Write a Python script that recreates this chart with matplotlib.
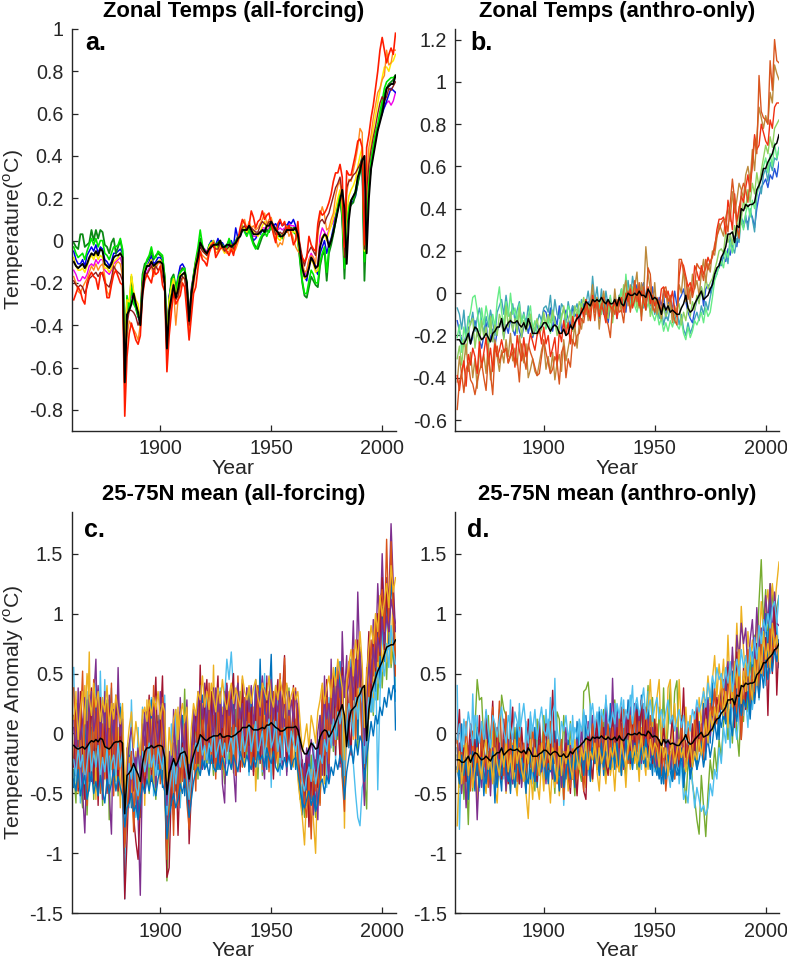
import numpy as np
import matplotlib
matplotlib.use('Agg')
import matplotlib.pyplot as plt

plt.rcParams['font.family'] = ['Liberation Sans', 'DejaVu Sans']
plt.rcParams['axes.unicode_minus'] = False
plt.rcParams['mathtext.fontset'] = 'custom'
plt.rcParams['mathtext.rm'] = 'Liberation Sans'

FIRST_YEAR = 1861
# All series: hundredths of a degree C, one row per decade from 1861 to 2006.
ens_all = [
-10,-12,-13,-12,-11,-13,-11,-8,-6,-7,
-5,-7,-4,-5,-11,-12,-13,-11,-8,-7,
-7,-6,-8,-67,-35,-33,-30,-25,-30,-34,
-40,-25,-15,-12,-12,-10,-12,-11,-10,-10,
-11,-20,-51,-33,-27,-21,-27,-23,-17,-16,
-15,-20,-38,-25,-18,-12,-8,-1,-3,-5,
-6,-4,-3,-2,-2,-2,0,-3,-3,-2,
-2,-3,-2,-1,1,2,5,5,5,7,
5,3,3,3,4,5,4,7,7,9,
7,5,4,2,2,3,5,5,5,5,
6,3,-5,-13,-17,-17,-13,-8,-10,-13,
-12,-3,1,3,2,-3,0,4,9,14,
19,24,15,-11,10,19,21,23,30,33,
38,40,-6,20,34,40,46,52,56,60,
66,72,73,74,74,78,
]
a_dkgreen = [
-1,-3,-4,3,3,-3,-2,-1,5,0,
5,1,5,4,-2,-3,-6,-1,1,-6,
-3,0,-5,-62,-30,-33,-17,-27,-31,-33,
-37,-16,-11,-10,-8,-5,-9,-7,-6,-7,
-8,-17,-47,-30,-18,-16,-22,-19,-15,-13,
-14,-21,-38,-24,-17,-10,-6,1,-4,-5,
-6,-4,-2,-1,-2,-1,0,-3,-3,-2,
0,-3,-2,-1,2,3,5,6,4,6,
3,-1,-3,-4,-1,2,3,5,4,7,
6,6,3,3,1,5,6,7,5,6,
6,1,-10,-20,-26,-27,-22,-17,-19,-21,
-22,-12,-7,-5,-19,-6,-2,3,9,15,
22,10,-18,8,15,17,18,22,27,32,
38,-19,10,25,35,42,48,53,58,63,
69,72,74,75,76,78,
]
a_lime = [
-3,-6,-8,-7,-6,-9,-5,-2,1,-2,
1,-3,0,0,-6,-7,-9,-6,-3,-3,
-2,1,-4,-55,-26,-32,-22,-30,-32,-36,
-38,-18,-13,-9,-7,-3,-8,-8,-5,-6,
-7,-17,-46,-28,-20,-17,-24,-18,-15,-14,
-13,-20,-39,-25,-16,-9,-3,5,-2,-5,
-7,-2,-1,0,-3,-3,-1,-2,-4,-3,
1,-2,-3,0,1,3,7,4,2,5,
1,-2,-4,-2,1,3,4,2,5,6,
4,3,2,2,1,4,4,5,6,4,
3,0,-9,-19,-25,-25,-19,-14,-16,-20,
-20,-10,-6,-3,-15,-4,0,4,10,16,
22,12,-13,9,16,19,20,24,29,35,
40,-10,12,28,38,45,51,55,61,66,
72,75,76,77,77,78,
]
a_yellow = [
-8,-12,-14,-14,-13,-15,-12,-9,-7,-9,
-6,-9,-7,-8,-13,-13,-15,-13,-10,-9,
-8,-6,-8,-60,-28,-29,-16,-24,-28,-30,
-41,-22,-14,-12,-11,-9,-13,-12,-10,-9,
-12,-19,-50,-28,-22,-18,-26,-22,-16,-16,
-16,-22,-41,-26,-18,-11,-7,-2,-3,-6,
-6,-3,-1,-2,-2,-5,-3,-4,-6,-4,
-4,-2,-5,-2,0,3,6,6,4,7,
5,4,3,2,4,7,9,6,8,10,
7,5,1,0,3,4,6,6,5,4,
4,0,-6,-13,-18,-17,-11,-9,-11,-15,
-14,-2,2,3,0,4,7,11,15,20,
24,16,-7,13,21,24,26,29,35,40,
44,-5,22,38,46,53,59,65,71,77,
82,82,80,84,85,88,
]
a_orange = [
-17,-20,-24,-25,-22,-20,-18,-15,-12,-14,
-11,-14,-12,-11,-17,-24,-26,-19,-14,-11,
-10,-11,-17,-72,-46,-38,-40,-42,-44,-47,
-40,-22,-17,-16,-14,-12,-17,-13,-11,-10,
-14,-20,-55,-40,-30,-24,-40,-28,-22,-18,
-18,-28,-45,-32,-22,-14,-10,-5,-7,-8,
-9,-5,-2,0,-6,-5,-2,-4,-5,-6,
-5,-3,-6,-4,-1,3,8,10,5,9,
6,7,5,6,8,10,13,8,10,11,
6,1,-3,-1,-2,3,7,2,4,1,
-3,-5,-6,-10,-15,-14,-9,-7,-8,-11,
2,12,16,12,5,6,10,13,21,26,
28,18,-5,22,29,28,33,38,44,53,
51,-3,28,44,50,58,64,70,72,76,
78,90,83,84,90,90,
]
a_red = [
-28,-25,-22,-24,-28,-30,-20,-17,-15,-17,
-18,-23,-16,-15,-19,-27,-27,-21,-16,-14,
-17,-20,-21,-83,-55,-44,-39,-43,-47,-49,
-45,-26,-19,-16,-18,-20,-14,-16,-15,-12,
-21,-24,-62,-45,-34,-24,-30,-28,-26,-20,
-22,-34,-47,-36,-25,-22,-13,-5,-9,-10,
-12,-6,-3,-1,-8,-6,-4,-3,-3,-5,
-7,-4,-7,-1,0,6,10,8,6,7,
14,11,6,9,10,14,10,12,13,8,
3,-1,8,10,7,9,4,7,3,-2,
0,9,-5,-8,-10,-8,2,-2,-4,-5,
8,14,12,13,15,18,22,28,32,32,
36,30,-3,33,31,31,36,41,47,48,
44,-2,44,50,58,64,72,80,90,96,
90,84,88,91,88,98,
]
a_dkred = [
-19,-21,-22,-21,-22,-25,-22,-18,-17,-16,
-15,-17,-15,-16,-20,-21,-22,-18,-12,-14,
-15,-16,-19,-65,-40,-33,-33,-34,-36,-40,
-37,-20,-15,-16,-14,-12,-14,-12,-14,-13,
-17,-21,-52,-35,-28,-23,-28,-26,-20,-17,
-18,-25,-40,-27,-19,-12,-6,-3,-5,-6,
-7,-4,-2,-3,-4,-4,-1,-3,-5,-4,
-3,-2,-4,-2,1,4,6,7,5,7,
6,5,4,4,7,9,8,7,9,9,
6,3,3,4,3,5,6,5,6,5,
6,3,-2,-8,-12,-7,-5,-3,-5,-7,
5,9,10,8,11,13,17,21,25,27,
30,22,-8,25,28,29,31,32,34,36,
39,-4,24,36,43,49,54,60,65,68,
66,68,72,71,73,75,
]
a_blue = [
-5,-9,-11,-11,-9,-12,-7,-5,-3,-5,
-2,-6,-3,-4,-9,-10,-12,-10,-6,-6,
-5,-4,-6,-58,-27,-32,-20,-26,-32,-36,
-39,-19,-15,-12,-10,-7,-11,-10,-8,-8,
-10,-18,-48,-26,-21,-18,-24,-17,-12,-11,
-13,-23,-42,-28,-17,-11,-6,-1,-3,-5,
-6,-2,0,-3,-2,1,-3,-1,-3,-3,
-2,0,-3,6,1,2,5,5,3,5,
3,0,1,3,3,5,5,5,4,8,
7,8,6,9,7,8,7,9,8,10,
7,2,-5,-13,-17,-19,-12,-8,-9,-14,
-16,-6,-3,0,-6,-2,1,6,11,16,
21,11,-12,8,15,17,19,21,27,33,
36,-8,14,28,37,42,49,53,57,60,
63,66,69,72,71,70,
]
a_magenta = [
-14,-16,-19,-19,-17,-18,-16,-12,-11,-12,
-9,-11,-9,-9,-14,-15,-16,-14,-11,-10,
-9,-8,-12,-60,-32,-30,-26,-28,-31,-34,
-38,-20,-16,-15,-13,-11,-14,-13,-10,-11,
-13,-20,-49,-27,-23,-19,-25,-20,-13,-13,
-14,-21,-37,-22,-16,-10,-5,-1,-4,-4,
-5,-3,-1,-2,-3,-3,-2,-3,-4,-3,
-3,-1,-4,0,2,3,6,4,4,6,
3,2,2,3,4,6,6,5,6,8,
8,6,5,6,5,6,6,8,7,7,
6,1,-6,-14,-17,-14,-9,-6,-8,-12,
-12,2,6,4,2,5,7,9,12,17,
21,14,-10,11,17,19,21,23,28,34,
37,-7,16,30,39,45,50,54,58,62,
63,65,66,64,66,70,
]
ens_anthro = [
-22,-22,-24,-24,-22,-19,-24,-19,-16,-17,
-20,-22,-21,-19,-21,-23,-19,-18,-16,-16,
-12,-18,-16,-14,-13,-14,-14,-13,-15,-16,
-14,-17,-12,-15,-19,-19,-19,-17,-16,-14,
-14,-16,-18,-16,-15,-16,-19,-19,-17,-20,
-19,-15,-17,-14,-12,-11,-9,-7,-4,-5,
-6,-3,-4,-3,-4,-2,-4,-5,-3,-5,
-5,-3,-6,-2,-5,-6,-3,0,-1,-1,
0,-1,1,-1,-1,-2,2,0,-3,-2,
-3,-6,-10,-5,-8,-6,-9,-8,-9,-10,
-10,-7,-5,-1,-7,-9,-8,-5,-3,-1,
1,-3,-2,-1,2,4,9,12,13,17,
19,22,28,28,29,24,32,31,40,39,
42,41,42,42,43,49,51,54,59,59,
62,64,66,70,71,75,
]
b_blue = [
-13,-18,-22,-25,-19,-16,-24,-21,-13,-19,
-22,-26,-20,-14,-24,-21,-17,-25,-18,-15,
-13,-21,-15,-19,-12,-17,-20,-13,-18,-21,
-16,-12,-19,-14,-21,-17,-15,-19,-13,-8,
-9,-14,-7,-18,-11,-15,-6,-18,-14,-8,
-12,-16,-6,-11,-9,-13,-8,-5,-10,-4,
-8,-3,-9,-5,-12,-4,-10,-3,-14,-6,
-9,-4,-12,-1,-7,-3,-9,1,-5,-2,
-1,4,-3,2,5,-4,1,-6,3,-5,
-8,-2,-6,0,-12,-5,-3,-8,1,-6,
-3,-1,2,-4,-9,-12,-14,-8,-3,-2,
3,-6,2,4,0,5,9,11,12,16,
17,15,21,18,24,27,22,30,34,31,
35,33,38,36,31,40,46,50,52,54,
50,56,54,59,55,62,
]
b_teal = [
-7,-10,-17,-8,-21,-11,-15,-9,-18,-12,
-7,-13,-19,-11,-16,-8,-14,-20,-9,-6,
-3,-10,-1,-9,-12,-5,-13,-8,-4,-14,
-9,-15,-6,-12,-16,-18,-14,-10,-13,-7,
-6,-9,-1,-13,-3,-10,-12,-5,-7,-14,
-4,-10,-6,-8,-5,-11,-3,-8,-5,1,
-7,8,-4,3,-8,2,-9,1,-6,-2,
-10,-1,-8,-3,2,-6,-2,6,-4,8,
1,-5,-2,4,-7,0,-3,-9,-4,-10,
-6,-12,-7,-15,-10,-13,-6,-9,-14,-8,
-15,-10,-17,-20,-14,-19,-16,-12,-9,-13,
-6,-10,-4,-8,-2,3,7,9,14,13,
18,20,14,27,22,19,26,24,36,33,
37,30,40,35,29,46,52,47,56,59,
53,62,58,64,63,69,
]
b_ltgreen = [
-21,-15,-28,-16,-22,-13,-9,-2,-1,-8,
-18,-7,-15,-6,-12,-19,-10,-16,-4,3,
-9,-15,-4,-11,0,-10,-7,-13,-5,-14,
-10,-16,-11,-6,-17,-13,-20,-16,-14,-11,
-17,-12,-19,-9,-14,-18,-15,-10,-8,-12,
-6,-9,-13,-7,-8,-10,-5,-9,-3,-6,
-9,-2,-8,-5,-3,-10,-2,-7,-9,-1,
-11,-3,-9,-5,2,-8,9,-2,-7,3,
-6,-9,-4,-11,-2,-8,-5,-3,-10,-13,
-9,-15,-12,-18,-14,-18,-13,-16,-12,-15,
-17,-13,-19,-22,-16,-21,-18,-13,-15,-12,
-9,-14,-7,-11,-9,-2,6,9,13,15,
12,20,17,24,19,25,30,27,35,30,
38,42,36,44,40,47,52,55,60,64,
57,66,60,71,64,68,
]
b_green = [
-31,-25,-34,-22,-29,-19,-14,-12,-26,-17,
-24,-13,-21,-16,-27,-11,-23,-15,-20,-10,
-13,-22,-6,-16,-9,-18,-12,-19,-7,-21,
-13,-18,-15,-10,-20,-16,-12,-19,-17,-9,
-15,-10,-14,-8,-13,-20,-17,-12,-6,-17,
-13,-9,-18,-6,-11,-4,-7,-2,-10,-5,
-13,0,-6,-2,-10,-4,0,-8,-12,-3,
-14,-5,-9,-1,-6,4,-3,-1,3,-6,
-1,-7,2,-9,-3,-5,1,-11,-7,-3,
-5,-9,-13,-6,-11,-8,-4,-13,-10,-7,
-5,-15,-9,-13,-6,-11,-4,-8,-1,-5,
3,-2,7,2,5,7,11,15,20,21,
19,29,24,28,23,32,27,41,35,44,
40,49,43,52,47,57,50,58,64,70,
66,74,69,78,80,82,
]
b_tan = [
-42,-30,-39,-33,-24,-37,-28,-40,-31,-45,
-26,-35,-29,-38,-24,-41,-33,-22,-30,-37,
-27,-33,-22,-30,-19,-32,-26,-34,-20,-28,
-33,-24,-40,-36,-31,-37,-39,-33,-27,-23,
-36,-30,-38,-28,-41,-33,-29,-37,-22,-32,
-26,-20,-24,-15,-26,-14,-17,-9,-3,-13,
-5,4,-9,-2,-17,-6,1,-10,-4,-7,
-11,2,-8,-3,-9,1,6,-6,4,-3,
3,10,-7,5,-1,22,9,2,-8,5,
-10,-4,-12,-2,1,-8,-3,-14,-6,-11,
4,0,12,-4,3,-5,9,2,6,-1,
9,16,5,14,10,20,18,26,33,30,
27,36,40,34,48,38,44,52,49,45,
56,60,53,68,58,74,88,83,78,84,
80,95,90,108,104,101,
]
b_red2 = [
-39,-46,-37,-32,-44,-29,-34,-26,-30,-38,
-23,-35,-28,-21,-33,-26,-37,-24,-30,-27,
-22,-28,-26,-33,-29,-24,-35,-20,-27,-32,
-21,-30,-26,-19,-23,-27,-20,-17,-24,-16,
-24,-20,-30,-26,-21,-34,-18,-23,-13,-20,
-14,-24,-11,-16,-10,-15,-7,-11,-3,-8,
-13,-1,-7,-3,-11,-5,-9,-14,-4,-6,
-8,-3,-12,-5,-2,-9,0,-4,2,-7,
-3,2,-6,1,-4,-8,3,-5,-1,-6,
-3,-7,2,3,-2,1,-4,1,-8,-11,
8,15,13,8,3,5,0,13,10,6,
13,9,12,17,14,18,21,30,35,35,
36,28,44,38,30,47,34,40,46,43,
50,56,48,62,75,68,70,80,76,72,
70,82,78,88,90,90,
]
b_red1 = [
-55,-42,-38,-47,-36,-33,-41,-43,-48,-42,
-37,-33,-40,-46,-30,-38,-48,-28,-25,-33,
-29,-27,-26,-33,-30,-28,-34,-31,-42,-24,
-30,-36,-24,-28,-31,-35,-39,-38,-30,-22,
-28,-33,-38,-36,-30,-33,-43,-28,-25,-40,
-31,-35,-22,-25,-20,-19,-12,-14,-6,-11,
-8,-4,-13,-3,-9,-7,-2,-12,-15,-21,
-6,-10,-3,-9,-8,-14,-3,1,-9,-2,
6,-4,5,-13,3,-6,12,9,-6,-9,
-2,-5,-9,2,3,-4,-1,-8,-13,-15,
16,16,10,7,-3,3,-2,3,14,12,
11,6,16,11,15,17,23,27,30,33,
35,35,29,42,54,44,31,26,48,52,
49,43,53,60,73,66,103,86,83,82,
80,110,96,120,110,109,
]
c_blue = [
-45,10,-30,25,-52,-10,28,-40,5,-35,
30,-25,12,-48,20,-15,-42,18,-30,8,
-38,22,-20,-75,-52,-18,-62,-30,-55,-68,
-32,12,-48,5,-22,28,-40,-8,-30,22,
-45,8,-95,-30,-60,-12,-48,8,-35,15,
-52,-5,-62,-22,12,-35,20,-20,32,-28,
15,-25,30,-18,24,-30,10,-22,35,-15,
22,-28,40,-12,28,-20,35,-25,18,-32,
30,-15,45,-22,62,-8,38,-30,25,66,
-18,30,-25,42,-20,15,-32,28,-12,22,
-30,12,-48,-68,-25,-60,-12,-55,-40,-62,
-5,-42,18,-30,35,-20,42,-8,55,-2,
60,-35,-50,30,-12,62,5,45,-5,70,
22,-22,38,65,18,80,35,92,40,105,
60,120,75,130,95,3,
]
c_green = [
-30,-58,15,-42,-62,8,-68,-20,22,-55,
5,-38,20,-60,-15,28,-72,12,-45,-5,
-52,18,-25,-100,-45,-8,-58,-22,-65,-38,
-70,-15,-42,10,-50,25,-28,-55,15,-35,
-18,-40,-123,-65,-15,-72,8,-40,-58,-22,
37,-45,-70,-10,-30,15,-38,25,-22,38,
-28,18,-12,-35,10,-30,25,-18,-42,30,
-25,5,-33,20,-12,35,-28,15,-20,38,
-8,-30,25,-38,12,-35,30,-10,-28,45,
-18,35,-30,20,-25,57,-15,38,-22,12,
-12,-30,-55,-42,-70,-28,-62,-18,-48,-70,
-20,-55,-10,-40,12,-32,25,-15,40,-5,
45,-25,-42,35,-10,55,-2,40,-15,60,
25,-35,-63,35,50,15,68,28,75,38,
80,45,95,55,72,40,
]
c_cyan = [
55,-40,25,-58,12,-30,35,-48,30,-25,
42,-35,52,-20,45,-45,15,38,-38,20,
-30,25,-55,-138,-20,-62,28,-35,-70,5,
-58,22,-40,15,-28,30,-52,20,-35,12,
-38,32,-85,-42,8,-55,20,-30,-62,15,
-25,-48,-15,-55,5,-20,30,-35,12,-28,
32,-15,25,-30,15,-22,38,-12,30,62,
45,68,35,-8,42,-18,30,-25,12,-35,
38,-10,42,-28,20,-32,50,-15,28,-45,
30,-18,35,-35,15,48,-22,30,-10,25,
-28,5,-35,-60,-30,-48,-15,-55,-8,-38,
-50,15,-30,22,-45,30,-12,38,-22,48,
-5,55,-25,42,5,-12,-25,-50,-70,-77,
-45,-38,-12,28,55,18,70,-47,30,85,
62,105,70,145,110,27,
]
c_yellow = [
-20,35,-50,18,-32,40,-12,68,-38,10,
-55,22,-42,30,-5,-48,15,-30,25,-40,
5,-62,18,-85,-60,-20,-45,-75,-15,-50,
-38,20,-60,28,-25,12,-42,25,-12,-32,
18,-55,-75,-30,-50,-8,-35,22,-48,-15,
10,-40,-60,-25,-8,-30,18,-15,25,-22,
-5,30,-18,57,-28,12,-25,22,-35,-8,
28,-20,15,-30,25,-12,32,-28,10,-18,
-25,22,-48,-5,30,-30,15,-18,35,-10,
-35,20,-25,10,-12,30,-30,22,-8,-28,
12,-38,-55,-70,-93,-48,-60,-30,-72,-100,
-30,-58,-5,-42,25,-20,30,-8,42,12,
-18,52,-79,38,5,48,-5,58,20,72,
30,-15,48,12,62,30,88,42,105,52,
78,60,110,58,125,65,
]
c_purple = [
15,-35,38,-22,-48,-83,-15,32,-40,28,
62,-30,18,-55,35,-8,-50,-84,20,-32,
55,-18,-42,-92,-12,-58,-30,-48,-20,-70,
-135,-25,18,-38,22,-18,30,-45,10,-28,
-15,25,-90,-18,-55,20,-30,-52,30,-12,
-40,22,-72,-28,15,-25,35,-10,-30,42,
-22,28,-15,38,-32,-8,25,-42,-58,20,
-12,40,-28,-57,30,-18,45,-8,38,-25,
18,-32,42,-12,35,-20,-38,48,-5,30,
-25,40,-15,25,-28,12,-35,35,-18,30,
-8,22,-42,-30,-62,-15,-50,-38,-68,-25,
-72,10,-35,48,-15,-40,62,-10,30,58,
-28,85,30,65,-5,40,94,22,118,55,
-18,-60,25,75,40,95,60,125,85,150,
95,130,110,175,125,85,
]
c_orange = [
38,-15,-45,5,52,-28,-60,18,-35,45,
-12,30,-50,8,-38,25,-18,42,-52,15,
-30,-8,-45,-95,-68,-35,-15,-82,-30,-55,
-48,5,-35,-15,18,-30,40,-22,8,-42,
30,-28,-105,-55,-25,-85,-10,-60,-18,-40,
8,-58,-80,-35,-10,-48,22,-30,15,-5,
-20,42,-25,15,-38,28,-10,-30,22,-15,
35,-25,10,-35,48,-5,-28,30,-15,25,
-30,15,-22,38,-10,45,-18,25,-32,10,
35,-25,-8,50,-20,63,-15,30,-28,18,
38,-22,-45,-30,-58,-70,-35,-88,-25,-48,
-30,-60,40,-18,30,-25,45,5,-10,52,
15,-38,-65,25,60,10,70,-8,62,35,
-5,-28,55,30,78,48,95,60,110,120,
85,162,90,160,105,48,
]
c_dkred = [
-28,25,-48,35,-18,-55,10,-32,38,-42,
18,-60,30,-25,8,-50,28,-15,-38,32,
-48,12,-28,-138,-90,-35,-20,-70,-90,-105,
-62,-18,-50,-5,32,-40,12,47,-25,5,
48,-35,-120,-112,-45,-68,-18,-85,-30,-8,
-45,15,-92,-50,-15,18,-25,57,-18,30,
45,-12,35,-25,18,48,-30,15,-20,42,
-15,30,50,-22,12,-32,42,-20,35,-10,
22,-35,18,40,-25,30,-15,42,-28,15,
-38,25,45,-20,30,65,-25,12,-30,40,
-10,25,-35,-22,-52,-20,-78,-35,-55,-22,
-45,-12,28,-35,45,-22,18,50,-18,40,
-25,55,-35,45,10,-18,62,25,78,45,
12,-30,42,85,30,75,52,100,65,130,
70,120,85,140,115,50,
]
c_blue2 = [
-38,-48,-30,-52,-42,-35,-55,-45,-32,-50,
-40,-52,-35,-48,-58,-38,-50,-42,-30,-48,
-36,-45,-52,-78,-62,-58,-50,-65,-60,-72,
-58,-42,-50,-38,-48,-35,-45,-52,-38,-30,
-42,-48,-88,-70,-58,-50,-62,-55,-42,-50,
-38,-52,-70,-55,-40,-32,-28,-35,-22,-30,
-25,-35,-18,-28,-32,-22,-30,-20,-28,-35,
-22,-30,-18,-25,-32,-15,-22,-28,-18,-25,
-30,-20,-28,-15,-22,-18,-28,-12,-20,-25,
-15,-28,-32,-25,-30,-20,-28,-18,-30,-22,
-20,-32,-45,-58,-62,-55,-48,-60,-52,-65,
-58,-42,-38,-50,-35,-42,-28,-35,-22,-30,
-18,-25,-55,-32,-20,-10,-25,-5,-18,-2,
-8,-40,-20,-5,10,-2,15,8,22,15,
30,22,38,28,40,35,
]
c_yellow2 = [
12,28,-5,20,35,8,50,30,15,42,
22,35,10,28,18,40,5,25,12,32,
18,8,25,-50,-15,5,18,-12,10,-5,
-18,15,22,10,28,15,30,20,35,12,
25,18,-40,5,-18,12,20,-5,15,25,
10,22,-25,5,25,15,35,28,48,22,
35,20,42,30,18,38,25,45,28,20,
32,42,25,38,30,22,48,35,28,40,
25,38,45,30,22,42,35,28,48,30,
22,40,28,45,35,25,42,20,32,38,
28,35,10,-15,-5,8,-12,15,5,-8,
18,28,42,25,38,48,30,55,40,62,
50,38,-22,45,58,70,48,78,62,85,
58,5,48,72,90,75,100,85,115,98,
110,125,105,140,118,130,
]
c_cyan2 = [
-22,-35,-12,-28,-18,-42,-25,-8,-32,-15,
-28,-10,-38,-20,-32,-12,-42,-25,-18,-35,
-8,-28,-15,-70,-48,-25,-38,-20,-45,-52,
-30,-15,-32,-22,-8,-28,-18,-35,-12,-22,
-30,-12,-68,-48,-35,-22,-42,-18,-28,-12,
-25,-35,-55,-38,-20,-8,-15,-2,-18,-10,
-22,-8,-15,5,-20,-12,-5,-18,-8,-25,
-10,-2,-18,5,-12,-22,2,-15,-5,8,
-15,-2,10,-18,-8,2,-20,-5,12,-12,
-5,10,-15,-2,-22,5,-10,-18,2,-8,
-15,-2,-25,-40,-48,-35,-28,-40,-22,-42,
-30,-18,-25,-5,-15,2,-10,12,-5,18,
8,20,-35,10,25,15,-2,30,12,38,
25,-25,12,30,18,42,28,55,38,60,
48,75,55,90,70,58,
]
c_purple2 = [
5,-12,22,-5,10,30,-8,18,35,2,
15,40,-3,25,8,-10,32,12,-5,22,
30,-2,12,-58,-28,-8,5,-18,-30,-12,
-35,8,-10,18,2,-12,22,5,-8,35,
12,-5,-60,-15,-30,5,-12,-28,18,2,
-15,28,-40,-15,20,2,22,40,12,35,
8,30,12,-2,38,18,35,5,28,40,
15,28,8,32,42,12,25,-2,38,18,
40,8,25,35,15,48,22,10,32,45,
12,30,18,35,5,25,40,15,28,10,
35,20,-8,-25,-35,-12,-25,-5,-18,-30,
2,15,-5,30,12,25,8,38,22,45,
30,48,-12,32,40,55,28,62,38,68,
42,-10,30,58,42,72,55,80,68,95,
75,98,85,112,100,92,
]
d_blue = [
-12,-35,8,-42,-20,-55,-8,-30,-48,5,
-38,-15,-52,-22,3,-40,-18,-58,-12,-30,
-48,-5,-35,-20,-50,-10,-32,8,-42,-15,
-28,-50,-8,-38,-20,5,-45,-12,-30,-25,
-8,-42,-18,-35,2,-28,-48,-12,-22,-38,
-5,-30,-15,-45,10,-25,-8,-32,15,-20,
-40,5,-12,-28,18,-8,-35,12,-22,25,
-5,-30,22,-15,-35,18,-10,28,-25,12,
-18,25,-8,32,-15,-28,20,-12,-35,5,
-22,-38,-12,-42,-5,-30,-15,-40,-8,-28,
-35,-12,-45,-25,-8,-38,-18,-5,-30,10,
-15,25,-22,30,-8,42,5,22,-5,35,
12,45,20,8,52,15,38,62,22,48,
30,55,18,68,42,75,35,85,58,100,
60,118,72,95,80,55,
]
d_green = [
-18,-45,-5,-55,-25,-76,-12,-48,5,45,
28,30,-10,-35,15,-22,-40,8,-30,-18,
32,20,15,-30,10,-42,5,-25,18,-38,
-12,-45,-20,5,-30,-48,12,-35,-18,15,
-8,-40,5,-22,-50,18,12,-30,15,-18,
-42,10,-25,-52,-5,-30,-40,35,37,43,
22,-15,8,-30,12,-25,20,-38,-10,15,
-22,28,-12,-30,8,-18,-35,20,-8,-25,
15,-30,-12,25,-18,10,40,-22,30,-15,
-30,22,-10,38,-25,5,40,-8,35,44,
-20,15,-30,-58,-25,-10,-42,-55,-72,-84,
-35,-60,-86,-50,-22,-38,-12,-32,-5,-20,
8,28,-5,20,-8,35,2,-19,30,10,
52,18,65,35,82,60,110,145,90,120,
70,125,115,90,105,115,
]
d_cyan = [
40,-80,-20,5,-45,-10,-35,33,-25,15,
-48,-5,-30,12,-40,-15,8,-32,-20,20,
-12,-38,5,-22,28,-30,-8,-45,25,-18,
-35,10,-25,18,-42,5,-28,12,-15,-38,
20,-8,30,-20,46,-30,-45,-8,-60,-22,
-5,-35,15,-18,-42,8,-28,20,-12,-35,
25,-20,10,-30,22,-5,-25,32,-15,12,
-28,25,-8,15,-35,28,-12,-25,18,40,
-10,22,-18,-30,25,-8,35,-22,12,-32,
-15,-35,5,-42,-12,-30,-45,-18,-38,-8,
-42,-25,-55,-48,-58,-30,-40,-62,-45,-55,
-65,-60,-68,-62,-42,-52,-30,-38,-12,-25,
5,-8,22,-12,30,8,-5,18,35,15,
28,5,48,20,38,62,28,55,72,40,
85,50,65,78,95,60,
]
d_yellow = [
-77,-25,-48,-10,-55,-30,-5,-42,-18,-58,
-22,-8,-38,-50,-15,-32,2,-45,-58,-20,
-40,-12,-50,-28,-48,-8,-38,-52,-18,-42,
-25,-50,-71,-30,-55,-18,-42,-55,-22,-48,
-12,-35,-58,-25,-45,-15,-52,-30,-55,-22,
-48,-8,-38,-25,-50,-12,-35,-20,-45,-5,
-28,-40,-8,-32,-48,-15,-25,-42,-10,-35,
-22,-48,-15,-8,-35,-18,-45,-10,-30,8,
-25,-12,-40,5,-20,-35,20,45,8,-18,
30,45,-10,12,-22,38,45,-8,25,-12,
45,5,-15,22,-5,15,-18,8,-25,30,
5,38,20,48,25,45,65,30,58,38,
62,25,82,35,65,45,92,50,106,70,
48,85,60,78,55,95,68,110,85,105,
120,95,125,105,125,143,
]
d_purple = [
-30,-8,-50,-15,-62,-25,-5,-42,-18,-72,
-28,-45,-10,-38,-20,-52,-12,-30,-42,-8,
-35,-18,-48,-5,-30,-42,-15,-25,-8,-45,
-20,-35,5,-28,-12,-40,-18,-5,-32,-15,
-42,-8,-25,-38,-5,-30,-12,-45,-22,5,
-32,-10,-38,-18,-5,-28,5,-20,-35,10,
-15,15,-25,5,-32,12,-18,22,-8,-28,
46,-12,18,-22,8,-30,15,-5,22,-18,
25,-10,18,-25,20,-5,12,-20,5,-15,
-28,-8,-32,-15,-22,-5,-30,-12,-25,5,
-18,12,-28,-8,-15,-25,5,-12,15,-8,
-5,20,-15,28,-2,15,35,12,25,38,
18,45,60,28,72,35,82,62,92,75,
88,50,78,95,60,105,70,88,82,115,
92,125,80,118,92,90,
]
d_dkred = [
-8,20,-32,-12,-40,-18,8,-28,-5,-35,
15,-22,-10,18,-30,-8,27,-25,5,-18,
-38,12,-20,-42,-8,22,-30,-15,-42,5,
-22,-35,12,-18,-30,-5,-40,10,-25,-12,
8,-30,-15,36,-25,-5,-35,-18,-45,-8,
-30,-50,-12,-28,-52,-15,-25,-48,-55,5,
-20,-38,-8,12,-30,-15,5,-25,-35,-5,
15,-22,5,-12,22,-18,-5,18,-25,10,
-12,20,-5,28,-10,15,-20,5,-25,12,
-15,-5,-25,8,-18,-30,-8,15,-22,-12,
-28,-5,38,-20,-10,-28,8,-18,22,-12,
5,-15,28,-5,12,22,5,30,18,42,
28,10,55,25,42,5,68,30,-5,55,
20,62,35,45,30,75,40,60,55,80,
15,85,50,110,32,78,
]
d_orange = [
-5,-30,-15,-42,10,-22,-48,2,-35,-12,
-40,5,-28,-18,-45,-8,22,-30,-15,27,
-10,-35,18,-25,-5,-32,-12,-40,5,-20,
-8,-38,-15,-28,5,-18,-35,-10,-25,2,
-32,-12,10,-25,-8,-42,-20,-5,-55,-15,
-35,-45,-10,-22,-38,-18,-8,-48,-20,-30,
-12,8,-25,-5,-18,15,-30,-10,8,-22,
5,-15,-28,12,-8,20,-12,-25,15,-5,
18,-15,10,-22,5,22,-8,15,-12,-28,
8,-20,-35,-12,-48,-25,-5,-18,-38,-10,
-22,10,-15,-30,5,-12,-25,18,-5,-15,
8,-22,12,-8,25,15,38,8,32,20,
45,18,35,58,25,40,15,52,-5,30,
42,70,25,55,35,65,30,78,48,68,
55,92,65,80,70,62,
]
d_blue2 = [
-28,-42,-18,-35,-22,-48,-30,-15,-38,-25,
-45,-20,-32,-42,-25,-38,-15,-28,-45,-22,
-35,-18,-30,-40,-25,-32,-45,-20,-30,-38,
-25,-35,-42,-18,-30,-40,-22,-35,-28,-15,
-38,-25,-32,-18,-40,-28,-35,-20,-45,-30,
-22,-38,-18,-30,-12,-28,-20,-35,-15,-25,
-32,-12,-25,-18,-35,-8,-28,-15,-22,-30,
-12,-25,-8,-32,-18,-28,-5,-22,-15,-30,
-8,-20,-28,-12,-25,-5,-18,-30,-15,-25,
-35,-20,-42,-28,-38,-18,-32,-40,-25,-35,
-30,-18,-38,-28,-22,-35,-28,-18,-30,-22,
-12,-28,-15,-5,-20,-8,10,-5,15,5,
18,8,25,12,-2,22,10,30,15,28,
22,35,12,42,25,48,30,55,38,62,
45,68,52,70,60,78,
]
d_cyan2 = [
-5,8,-15,12,-2,18,5,-10,15,2,
-8,10,-5,20,3,-12,15,8,-3,12,
22,2,-8,15,5,-5,18,10,-3,12,
25,5,-8,15,2,20,-5,10,22,3,
-2,12,-8,18,25,5,-10,10,2,15,
-5,8,-12,5,-3,12,2,18,8,-2,
15,25,5,18,-2,20,10,28,12,5,
18,8,25,15,30,5,20,12,32,8,
22,30,15,25,38,12,20,28,10,22,
30,12,20,5,18,28,8,15,2,12,
20,5,15,-5,10,2,20,12,28,18,
25,35,22,42,30,48,38,55,45,50,
38,55,42,60,35,50,62,48,70,55,
65,48,72,58,80,62,90,75,95,85,
100,88,105,110,92,115,
]
d_yellow2 = [
-32,-15,-42,-22,-8,-35,-18,-45,-28,-12,
-25,-38,-15,-5,-30,-20,-42,-12,-25,-35,
-15,-28,-8,-32,-18,-38,-5,-25,-12,-30,
-40,-15,-25,-5,-32,-12,-22,-35,-8,-28,
-18,-5,-30,-12,-22,-40,-8,-35,-15,-25,
-10,-28,-38,-5,-20,-30,-12,-22,-5,-30,
-15,-22,-8,-30,-12,-25,-18,-2,-28,-12,
-20,-8,-25,-32,-5,-18,-28,-12,-2,-20,
-10,-25,-15,-2,-22,-12,-30,-5,-18,-8,
-12,-28,-5,-20,-12,-35,-18,-8,-25,-15,
-5,-20,-12,-32,-18,-8,-28,-15,-22,-5,
-18,-5,12,-8,18,2,22,12,28,45,
15,35,5,48,22,60,38,70,25,52,
35,58,42,28,62,40,72,50,85,62,
75,55,92,72,82,60,
]

BLUE, ORANGE, YELLOW, PURPLE, GREEN, CYAN, DKRED = ('#0072BD', '#D95319', '#EDB120', '#7E2F8E',
                                                    '#77AC30', '#4DBEEE', '#A2142F')
PANEL_A = [(a_magenta, '#f000e8', 1.0), (a_blue, '#0000e6', 1.1), (a_dkgreen, '#0b8a14', 1.3),
           (a_lime, '#00e800', 1.2), (a_yellow, '#ffea00', 1.1), (a_orange, '#ff8a1f', 1.0),
           (a_dkred, '#8f1d1d', 1.0), (a_red, '#ff1c00', 1.2)]
PANEL_B = [(b_blue, '#2456d8', 1.0), (b_teal, '#3fa3b8', 1.0), (b_ltgreen, '#66ec86', 1.0),
           (b_green, '#8fd261', 1.0), (b_tan, '#bd8a3c', 1.0), (b_red2, '#f02f12', 1.0),
           (b_red1, '#d9561f', 1.0)]
PANEL_C = [(c_green, GREEN), (c_cyan, CYAN), (c_blue, BLUE), (c_yellow, YELLOW),
           (c_purple, PURPLE), (c_dkred, DKRED), (c_orange, ORANGE),
           (c_cyan2, CYAN), (c_purple2, PURPLE), (c_blue2, BLUE), (c_yellow2, YELLOW)]
PANEL_D = [(d_green, GREEN), (d_cyan, CYAN), (d_yellow, YELLOW), (d_blue, BLUE),
           (d_purple, PURPLE), (d_dkred, DKRED), (d_orange, ORANGE),
           (d_blue2, BLUE), (d_yellow2, YELLOW), (d_cyan2, CYAN)]

TITLES = ['Zonal Temps (all-forcing)', 'Zonal Temps (anthro-only)',
          '25-75N mean (all-forcing)', '25-75N mean (anthro-only)']
LETTERS = ['a.', 'b.', 'c.', 'd.']
XTICKS = [1900, 1950, 2000]
YT_A = [-0.8, -0.6, -0.4, -0.2, 0, 0.2, 0.4, 0.6, 0.8, 1]
YT_B = [-0.6, -0.4, -0.2, 0, 0.2, 0.4, 0.6, 0.8, 1, 1.2]
YT_C = [-1.5, -1, -0.5, 0, 0.5, 1, 1.5]

W, H = 787, 961
fig = plt.figure(figsize=(W / 100, H / 100), dpi=100)
INK = '#262626'


def make_axes(left, top, right, bottom, ylim, yticks, title, letter, lx, ly, ylabel=None, ylabx=None):
    ax = fig.add_axes([left / W, 1 - bottom / H, (right - left) / W, (bottom - top) / H])
    ax.set_xlim(1860, 2006)
    ax.set_ylim(*ylim)
    ax.set_xticks(XTICKS)
    ax.set_yticks(yticks)
    ax.set_yticklabels([('%g' % t) for t in yticks])
    ax.tick_params(direction='in', length=4, width=0.9, labelsize=14.2, colors=INK, pad=6)
    ax.spines['top'].set_visible(False)
    ax.spines['right'].set_visible(False)
    for s in ('left', 'bottom'):
        ax.spines[s].set_color(INK)
        ax.spines[s].set_linewidth(1.0)
    fig.text((left + right) / 2 / W, 1 - (top - 17) / H, title, ha='center', va='center',
             fontsize=15.8, fontweight='bold', color='black')
    fig.text((left + right) / 2 / W, 1 - (bottom + 37) / H, 'Year', ha='center', va='center',
             fontsize=15.3, color=INK)
    fig.text(lx / W, 1 - ly / H, letter, ha='left', va='center', fontsize=18, fontweight='bold', color='black')
    if ylabel:
        fig.text(ylabx / W, 1 - (top + bottom) / 2 / H, ylabel, rotation=90, ha='center', va='center',
                 fontsize=15.3, color=INK)
    return ax


def years(s):
    return np.arange(FIRST_YEAR, FIRST_YEAR + len(s))


def val(s):
    return np.array(s) / 100.0


for name, s in list(globals().items()):
    if isinstance(s, list) and name[:2] in ('a_', 'b_', 'c_', 'd_', 'en') and len(s) != 146:
        raise ValueError('length of %s is %d' % (name, len(s)))

ax = make_axes(71.5, 29, 395.5, 431, (-0.9, 1.0), YT_A, TITLES[0], LETTERS[0], 85, 43,
               r'Temperature($^{\mathrm{o}}$C)', 14)
for s, c, lw in PANEL_A:
    ax.plot(years(s), val(s), color=c, lw=lw)
ax.plot(years(ens_all), val(ens_all), color='black', lw=1.4)

ax = make_axes(455, 29, 779, 431, (-0.652, 1.25), YT_B, TITLES[1], LETTERS[1], 470, 43)
for s, c, lw in PANEL_B:
    ax.plot(years(s), val(s), color=c, lw=lw)
ax.plot(years(ens_anthro), val(ens_anthro), color='black', lw=1.1)

ax = make_axes(71.5, 511.7, 395.5, 913.3, (-1.5, 1.85), YT_C, TITLES[2], LETTERS[2], 84, 530,
               r'Temperature Anomaly ($^{\mathrm{o}}$C)', 14)
for s, c in PANEL_C:
    ax.plot(years(s), val(s), color=c, lw=1.0)
ax.plot(years(ens_all), val(ens_all), color='black', lw=1.1)

ax = make_axes(455, 511.7, 779, 913.3, (-1.5, 1.85), YT_C, TITLES[3], LETTERS[3], 467, 530)
for s, c in PANEL_D:
    ax.plot(years(s), val(s), color=c, lw=1.0)
ax.plot(years(ens_anthro), val(ens_anthro), color='black', lw=1.1)

fig.savefig('out.png', dpi=100)
